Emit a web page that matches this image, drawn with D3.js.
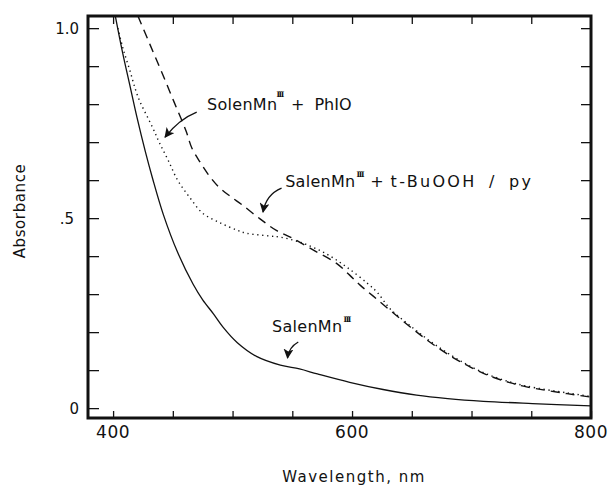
<!DOCTYPE html>
<html>
<head>
<meta charset="utf-8">
<script src="https://cdn.jsdelivr.net/npm/d3@7"></script>
<style>
	body { margin: 0; background: #fff; }
	svg text { font-family: "DejaVu Sans", sans-serif; fill: #111; }
</style>
</head>
<body>
<svg id="viz-spectra" width="610" height="485"></svg>
<script>

// SalenMn(III) alone (solid line).
var salenWavelengths = [ 402, 408, 414, 420, 427, 433, 442, 454, 467, 475, 484, 492, 504, 520, 540, 556, 571, 598, 626, 654, 680, 710, 751, 800 ];
var salenAbsorbance = [ 1.03, 0.935, 0.85, 0.765, 0.675, 0.605, 0.51, 0.41, 0.326, 0.285, 0.248, 0.213, 0.172, 0.136, 0.113, 0.103, 0.09, 0.068, 0.049, 0.034, 0.025, 0.018, 0.012, 0.006 ];

// SalenMn(III) + PhIO (dotted line).
var phioWavelengths = [ 404, 408, 414, 421, 433, 439, 446, 454, 464, 475, 490, 504, 512, 531, 540, 559, 579, 596, 613, 621, 632, 649, 665, 682, 699, 715, 732, 746, 780, 800 ];
var phioAbsorbance = [ 1.0, 0.95, 0.889, 0.818, 0.739, 0.697, 0.653, 0.6, 0.555, 0.513, 0.487, 0.468, 0.46, 0.453, 0.45, 0.434, 0.405, 0.37, 0.328, 0.305, 0.261, 0.216, 0.177, 0.141, 0.11, 0.087, 0.069, 0.058, 0.04, 0.031 ];

// SalenMn(III) + t-BuOOH / py (dashed line).
var buoohWavelengths = [ 420.8, 431, 441, 451, 461, 466, 472.7, 479.4, 487.8, 497.8, 508, 523, 537, 551, 567, 587, 598, 607, 618, 632, 649, 665, 682, 699, 715, 732, 746, 780, 800 ];
var buoohAbsorbance = [ 1.032, 0.956, 0.882, 0.806, 0.73, 0.684, 0.648, 0.616, 0.584, 0.558, 0.535, 0.498, 0.467, 0.446, 0.417, 0.381, 0.35, 0.323, 0.294, 0.257, 0.213, 0.174, 0.138, 0.108, 0.085, 0.067, 0.056, 0.038, 0.029 ];

// Ticks.
var xTicks = [ 400, 450, 500, 550, 600, 650, 700, 750, 800 ];
var xTickLabels = [ 400, 600, 800 ];
var yTicks = [ 0, 0.1, 0.2, 0.3, 0.4, 0.5, 0.6, 0.7, 0.8, 0.9, 1.0 ];
var yTickLabels = [ '0', '.5', '1.0' ];
var yTickLabelValues = [ 0, 0.5, 1.0 ];

// Curve labels, with the tail and tip of their arrows in data units.
var labelNames = [ 'SolenMn', 'SalenMn', 'SalenMn' ];
var labelTails = [ 'PhIO', 't-BuOOH / py', '' ];
var labelAnchors = [ [ 478.6, 0.784 ], [ 544, 0.582 ], [ 533, 0.2 ] ];
var arrowStarts = [ [ 470, 0.779 ], [ 541, 0.579 ], [ 555, 0.174 ] ];
var arrowBends = [ [ 455, 0.76 ], [ 528, 0.562 ], [ 547, 0.16 ] ];
var arrowTips = [ [ 443.5, 0.713 ], [ 525.5, 0.516 ], [ 546, 0.132 ] ];


window.spectraViz = {

	_margin: { top: 16, right: 19, bottom: 67, left: 88 },

	// Spacing of the pieces in each curve label: superscript shift, lift, gaps round the "+", tail letter-spacing.
	_labelSpacing: [
		{ supDx: -1, supLift: 13, plusDx: 8, tailDx: 10, tailSpacing: 0, wordSpacing: 0 },
		{ supDx: 1, supLift: 10, plusDx: 7, tailDx: 7, tailSpacing: 2.3, wordSpacing: 5 },
		{ supDx: 1, supLift: 10, plusDx: 0, tailDx: 0, tailSpacing: 0, wordSpacing: 0 }
	],

	/**
	 * @private _bindSvg
	 */
	_bindSvg: function () {
		this._svg = d3.select( '#viz-spectra' );
		this._width = +this._svg.attr( 'width' ) - this._margin.left - this._margin.right;
		this._height = +this._svg.attr( 'height' ) - this._margin.top - this._margin.bottom;

		this._x = d3.scaleLinear().domain( [ 379, 800 ] ).range( [ this._margin.left, this._margin.left + this._width ] );
		this._y = d3.scaleLinear().domain( [ -0.026, 1.032 ] ).range( [ this._margin.top + this._height, this._margin.top ] );

		this._svg.append( 'clipPath' ).attr( 'id', 'plot-clip' )
			.append( 'rect' )
			.attr( 'x', this._margin.left )
			.attr( 'y', this._margin.top )
			.attr( 'width', this._width )
			.attr( 'height', this._height );
	},

	/**
	 * @private _drawAxes
	 * Frame with inward ticks on all four sides.
	 */
	_drawAxes: function () {
		var x = this._x, y = this._y;
		var top = this._margin.top, bottom = this._margin.top + this._height;
		var left = this._margin.left, right = this._margin.left + this._width;

		var bottomAxis = this._svg.append( 'g' )
			.attr( 'transform', 'translate(0,' + bottom + ')' )
			.call( d3.axisBottom( x ).tickValues( xTicks ).tickSize( -7 ).tickFormat( '' ) );
		var topAxis = this._svg.append( 'g' )
			.attr( 'transform', 'translate(0,' + top + ')' )
			.call( d3.axisTop( x ).tickValues( xTicks.slice( 0, -1 ) ).tickSize( -8 ).tickFormat( '' ) );
		var leftAxis = this._svg.append( 'g' )
			.attr( 'transform', 'translate(' + left + ',0)' )
			.call( d3.axisLeft( y ).tickValues( yTicks ).tickSize( -11 ).tickFormat( '' ) );
		var rightAxis = this._svg.append( 'g' )
			.attr( 'transform', 'translate(' + right + ',0)' )
			.call( d3.axisRight( y ).tickValues( yTicks.slice( 1 ) ).tickSize( -10 ).tickFormat( '' ) );

		[ bottomAxis, topAxis, leftAxis, rightAxis ].forEach( function ( g ) {
			g.select( '.domain' ).remove();
			g.selectAll( '.tick line' ).attr( 'stroke', '#111' ).attr( 'stroke-width', 1.3 );
		} );

		// The heavy frame.
		this._svg.append( 'rect' )
			.attr( 'x', left )
			.attr( 'y', top )
			.attr( 'width', right - left )
			.attr( 'height', bottom - top )
			.attr( 'fill', 'none' )
			.attr( 'stroke', '#111' )
			.attr( 'stroke-width', 3 );

		this._svg.selectAll( 'text.x-label' )
			.data( xTickLabels )
			.enter()
			.append( 'text' )
			.classed( 'x-label', true )
			.attr( 'x', function ( d ) { return x( d ); } )
			.attr( 'y', 438 )
			.attr( 'text-anchor', 'middle' )
			.style( 'font-size', '17px' )
			.style( 'letter-spacing', '0.5px' )
			.text( function ( d ) { return d; } );

		this._svg.selectAll( 'text.y-label' )
			.data( yTickLabelValues )
			.enter()
			.append( 'text' )
			.classed( 'y-label', true )
			.attr( 'x', function ( d ) { return d === 0.5 ? 74 : 79; } )
			.attr( 'y', function ( d ) { return y( d ) + 6; } )
			.attr( 'text-anchor', 'end' )
			.style( 'font-size', '15px' )
			.text( function ( d, i ) { return yTickLabels[i]; } );

		this._svg.append( 'text' )
			.attr( 'transform', 'translate(25,211) rotate(-90)' )
			.attr( 'text-anchor', 'middle' )
			.style( 'font-size', '15px' )
			.style( 'letter-spacing', '0.6px' )
			.text( 'Absorbance' );

		this._svg.append( 'text' )
			.attr( 'x', 354 )
			.attr( 'y', 482 )
			.attr( 'text-anchor', 'middle' )
			.style( 'font-size', '15px' )
			.style( 'letter-spacing', '1.5px' )
			.text( 'Wavelength, nm' );
	},

	/**
	 * @private _drawCurves
	 */
	_drawCurves: function () {
		var x = this._x, y = this._y;
		var line = d3.line()
			.x( function ( d ) { return x( d[0] ); } )
			.y( function ( d ) { return y( d[1] ); } )
			.curve( d3.curveCatmullRom.alpha( 0.5 ) );

		var series = [
			{ w: salenWavelengths, a: salenAbsorbance, dash: null, width: 1.3 },
			{ w: phioWavelengths, a: phioAbsorbance, dash: '1.3,3.6', width: 1.4 },
			{ w: buoohWavelengths, a: buoohAbsorbance, dash: '9,6', width: 1.4 }
		];

		this._svg.append( 'g' )
			.attr( 'clip-path', 'url(#plot-clip)' )
			.selectAll( 'path' )
			.data( series )
			.enter()
			.append( 'path' )
			.attr( 'fill', 'none' )
			.attr( 'stroke', '#111' )
			.attr( 'stroke-width', function ( d ) { return d.width; } )
			.attr( 'stroke-dasharray', function ( d ) { return d.dash; } )
			.attr( 'd', function ( d ) {
				return line( d.w.map( function ( w, i ) { return [ w, d.a[i] ]; } ) );
			} );
	},

	/**
	 * @private _drawLabels
	 * Curve names with their curved pointer arrows.
	 */
	_drawLabels: function () {
		var x = this._x, y = this._y;
		var spacing = this._labelSpacing;

		this._svg.append( 'defs' ).append( 'marker' )
			.attr( 'id', 'arrow-head' )
			.attr( 'viewBox', '0 0 10 10' )
			.attr( 'refX', 9 )
			.attr( 'refY', 5 )
			.attr( 'markerWidth', 10 )
			.attr( 'markerHeight', 10 )
			.attr( 'markerUnits', 'userSpaceOnUse' )
			.attr( 'orient', 'auto' )
			.append( 'path' )
			.attr( 'd', 'M0,0 L10,5 L0,10 L2.5,5 Z' )
			.attr( 'fill', '#111' );

		var labels = this._svg.selectAll( 'text.curve-label' )
			.data( labelNames )
			.enter()
			.append( 'text' )
			.classed( 'curve-label', true )
			.attr( 'x', function ( d, i ) { return x( labelAnchors[i][0] ); } )
			.attr( 'y', function ( d, i ) { return y( labelAnchors[i][1] ); } )
			.style( 'font-size', '16px' )
			.style( 'letter-spacing', '0.3px' );

		labels.append( 'tspan' ).text( function ( d ) { return d; } );

		// Roman numeral oxidation state.
		labels.append( 'tspan' )
			.attr( 'dx', function ( d, i ) { return spacing[i].supDx; } )
			.attr( 'dy', function ( d, i ) { return -spacing[i].supLift; } )
			.style( 'font-size', '7.5px' )
			.style( 'font-family', '"DejaVu Serif", serif' )
			.style( 'font-weight', 'bold' )
			.style( 'letter-spacing', '-1.3px' )
			.text( 'III' );

		labels.filter( function ( d, i ) { return labelTails[i] !== ''; } )
			.append( 'tspan' )
			.attr( 'dx', function ( d, i ) { return spacing[i].plusDx; } )
			.attr( 'dy', function ( d, i ) { return spacing[i].supLift; } )
			.style( 'letter-spacing', '0px' )
			.text( '+' );

		labels.filter( function ( d, i ) { return labelTails[i] !== ''; } )
			.append( 'tspan' )
			.attr( 'dx', function ( d, i ) { return spacing[i].tailDx; } )
			.style( 'letter-spacing', function ( d, i ) { return spacing[i].tailSpacing + 'px'; } )
			.style( 'word-spacing', function ( d, i ) { return spacing[i].wordSpacing + 'px'; } )
			.text( function ( d, i ) { return labelTails[i]; } );

		this._svg.selectAll( 'path.arrow' )
			.data( arrowStarts )
			.enter()
			.append( 'path' )
			.classed( 'arrow', true )
			.attr( 'fill', 'none' )
			.attr( 'stroke', '#111' )
			.attr( 'stroke-width', 1.3 )
			.attr( 'marker-end', 'url(#arrow-head)' )
			.attr( 'd', function ( d, i ) {
				var p = d3.path();
				p.moveTo( x( d[0] ), y( d[1] ) );
				p.quadraticCurveTo( x( arrowBends[i][0] ), y( arrowBends[i][1] ), x( arrowTips[i][0] ), y( arrowTips[i][1] ) );
				return p.toString();
			} );
	},

	on: function () {
		this._bindSvg();
		this._drawCurves();
		this._drawAxes();
		this._drawLabels();
	}

};

window.spectraViz.on();
</script>
</body>
</html>
